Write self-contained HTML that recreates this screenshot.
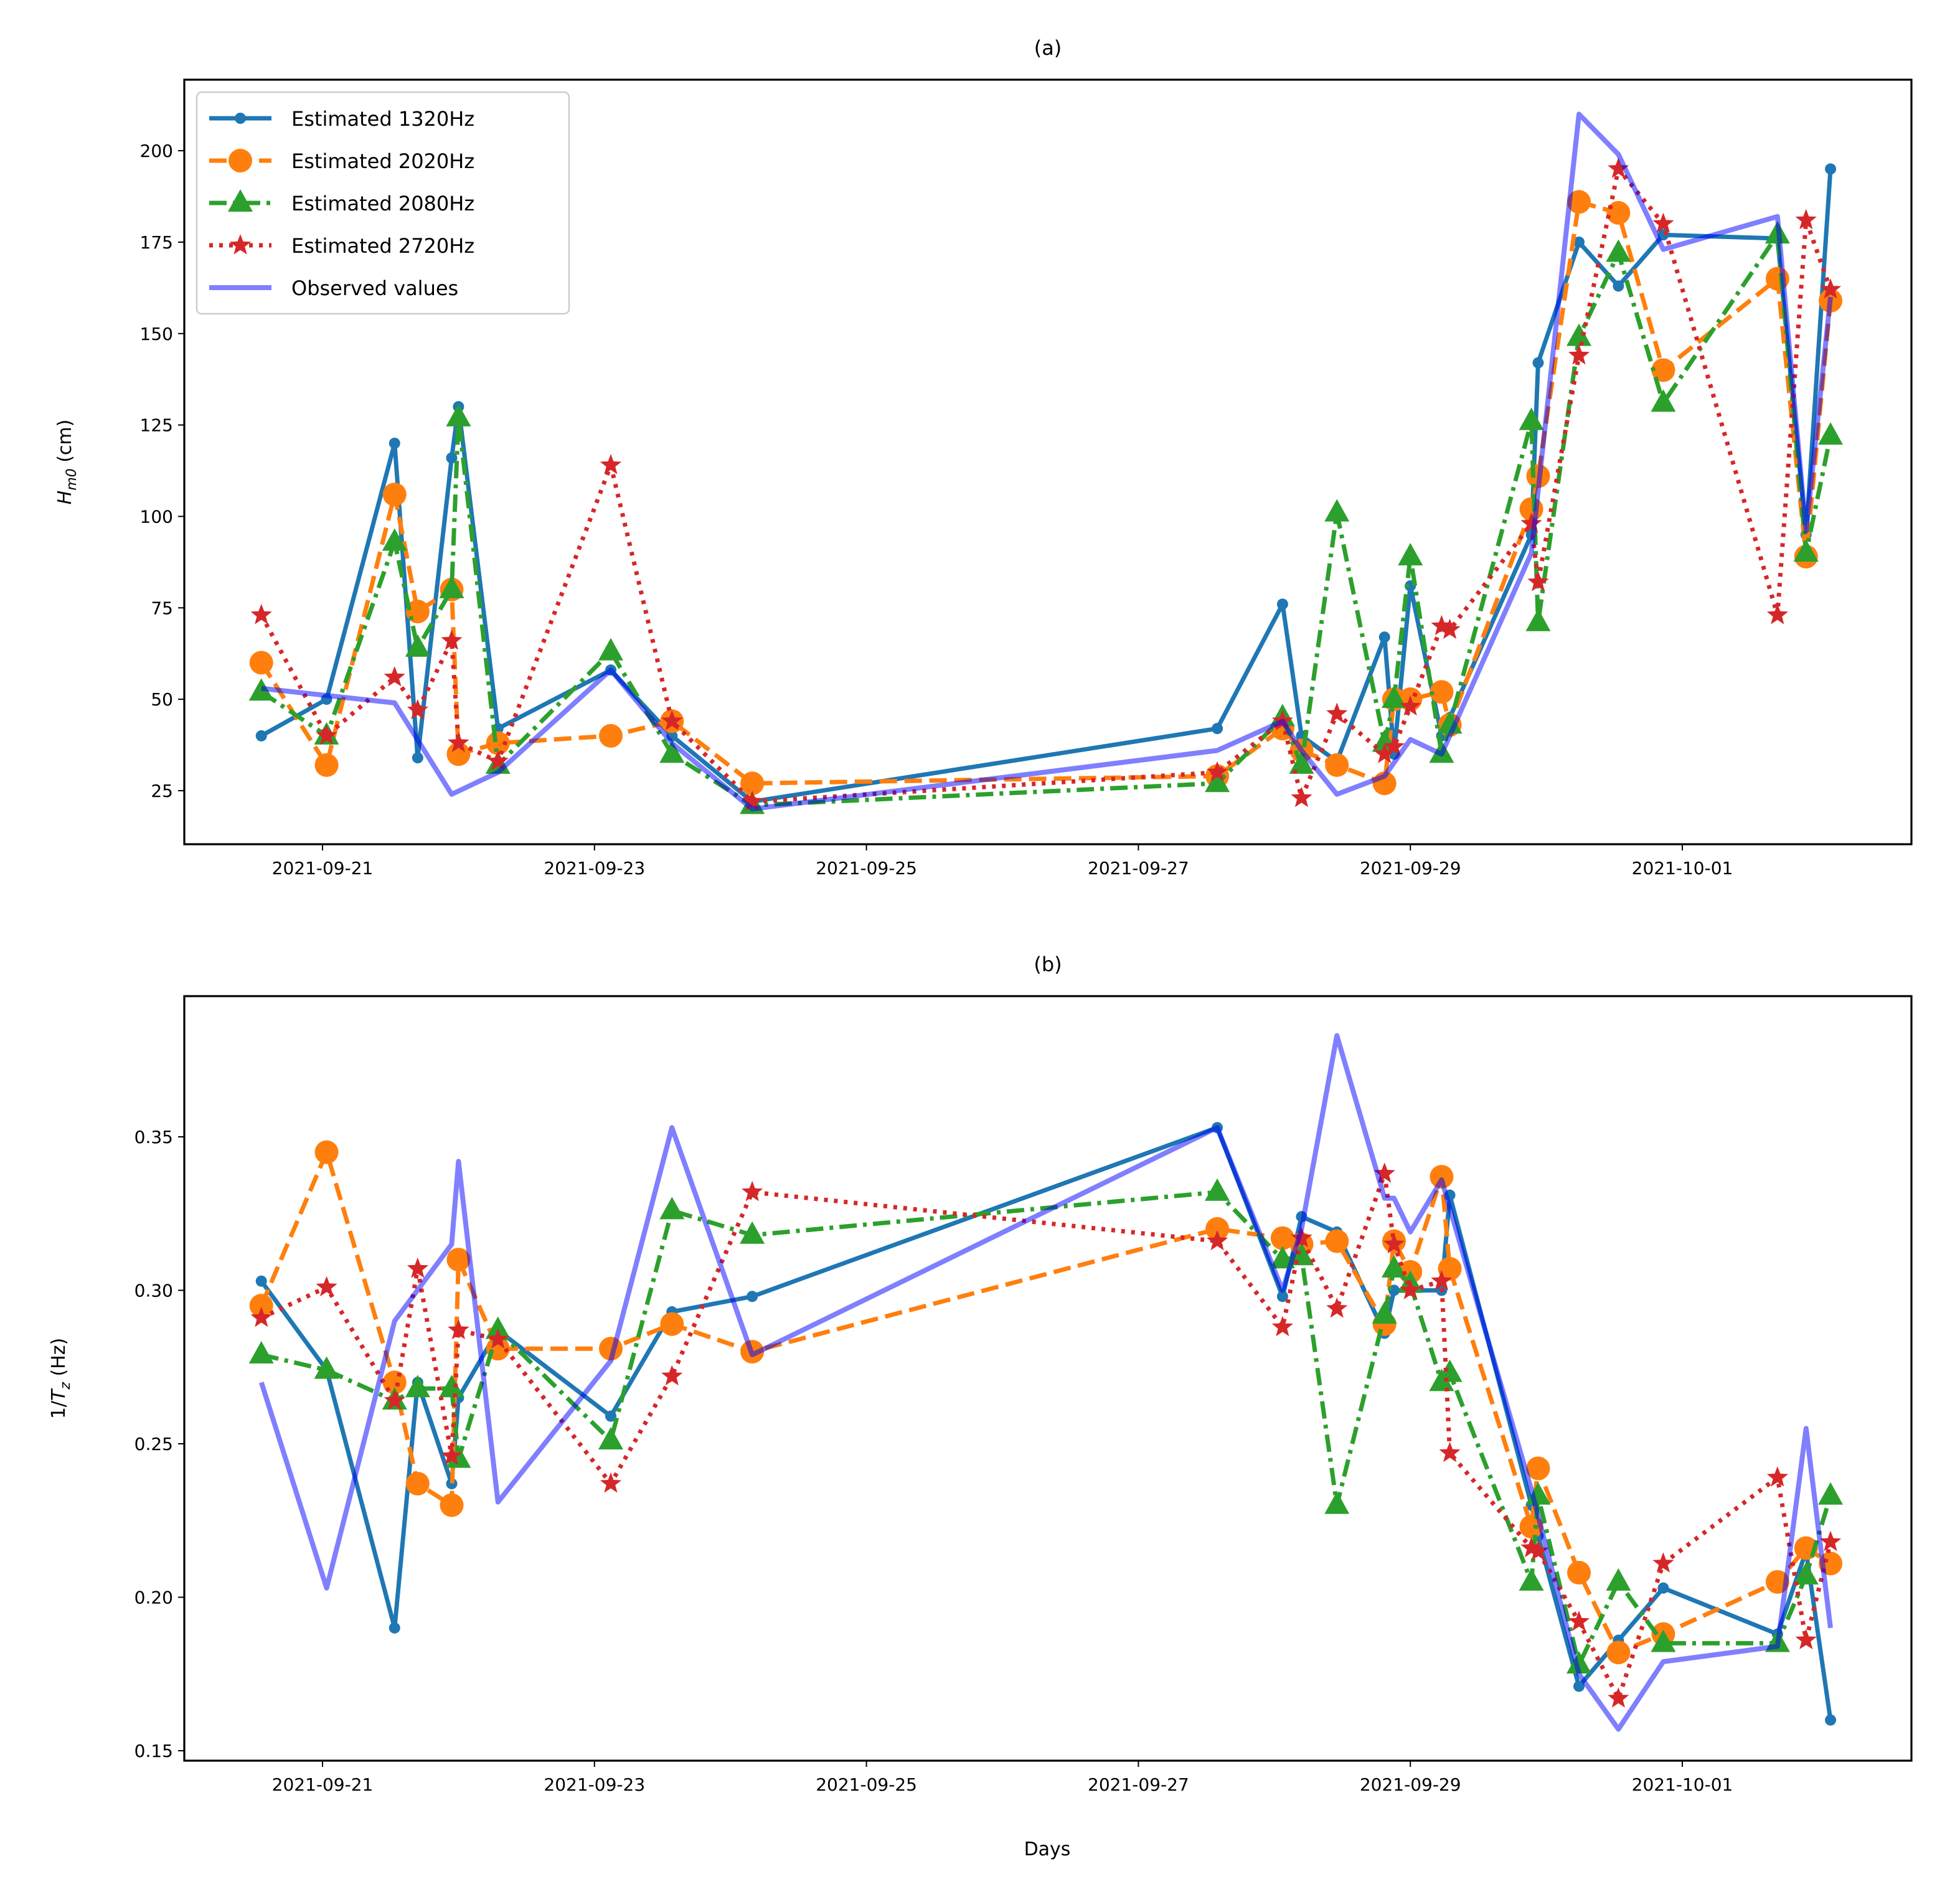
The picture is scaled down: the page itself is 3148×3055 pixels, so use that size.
<!DOCTYPE html>
<html><head><meta charset="utf-8"><style>
html,body{margin:0;padding:0;background:#fff}
svg{display:block}
text{font-family:"DejaVu Sans","Liberation Sans",sans-serif;fill:#000}
</style></head><body>
<svg id="chart" width="3148" height="3055" viewBox="0 0 1574 1527.5" xmlns="http://www.w3.org/2000/svg"></svg>
<script>
// data (days since 2021-09-21)
const times=[-0.45,0.03,0.53,0.7,0.95,1.0,1.29,2.12,2.57,3.16,6.58,7.06,7.2,7.46,7.81,7.88,8.0,8.23,8.29,8.89,8.94,9.24,9.53,9.86,10.7,10.91,11.09];
const seriesNames=["Estimated 1320Hz","Estimated 2020Hz","Estimated 2080Hz","Estimated 2720Hz","Observed values"];
const hm1320=[40,50,120,34,116,130,42,58,40,22,42,76,40,33,67,35,81,40,45,95,142,175,163,177,176,95,195];
const hm2020=[60,32,106,74,80,35,38,40,44,27,29,42,36,32,27,50,50,52,43,102,111,186,183,140,165,89,159];
const hm2080=[52,40,93,64,80,127,32,63,35,21,27,45,32,101,38,50,89,35,43,126,71,149,172,131,177,90,122];
const hm2720=[73,40,56,47,66,38,33,114,44,22,30,44,23,46,35,37,48,70,69,98,82,144,195,180,73,181,162];
const hmObs=[53,null,49,null,24,null,30,58,38,20,36,44,36,24,29,null,39,35,null,90,null,210,199,173,182,96,160];
const tz1320=[.303,.274,.190,.270,.237,.265,.287,.259,.293,.298,.353,.298,.324,.319,.286,.300,.300,.300,.331,.230,.220,.171,.186,.203,.188,.215,.160];
const tz2020=[.295,.345,.270,.237,.230,.310,.281,.281,.289,.280,.320,.317,.315,.316,.289,.316,.306,.337,.307,.223,.242,.208,.182,.188,.205,.216,.211];
const tz2080=[.279,.274,.264,.268,.268,.245,.287,.251,.326,.318,.332,.310,.311,.230,.292,.307,.302,.270,.273,.205,.233,.178,.205,.185,.185,.207,.233];
const tz2720=[.291,.301,.264,.307,.246,.287,.284,.237,.272,.332,.316,.288,.317,.294,.338,.315,.300,.303,.247,.216,.215,.192,.167,.211,.239,.186,.218];
const tzObs=[.270,.203,.290,null,.315,.342,.231,.277,.353,.279,.353,.300,.320,.383,.330,.330,.319,.336,null,.235,null,.175,.157,.179,.184,.255,.190];
const xTickDays=[0,2,4,6,8,10];
const xTickLabels=["2021-09-21","2021-09-23","2021-09-25","2021-09-27","2021-09-29","2021-10-01"];
const yTicksA=[25,50,75,100,125,150,175,200];
const yTicksB=[0.15,0.20,0.25,0.30,0.35];

const NS="http://www.w3.org/2000/svg";
const svg=document.getElementById('chart');
function mk(tag,attrs,parent){const e=document.createElementNS(NS,tag);for(const k in attrs)e.setAttribute(k,attrs[k]);(parent||svg).appendChild(e);return e;}
const L=148,R=1535;
const xs=d=>259+d*109.2;
const panels=[
 {top:64,bot:678,ys:v=>635-(v-25)*2.937,ticks:yTicksA,fmt:v=>String(v),title:"(a)",data:[hm1320,hm2020,hm2080,hm2720,hmObs],name:"panel-a"},
 {top:800,bot:1414,ys:v=>1406-(v-0.15)*2465,ticks:yTicksB,fmt:v=>v.toFixed(2),title:"(b)",data:[tz1320,tz2020,tz2080,tz2720,tzObs],name:"panel-b"}
];
const styles=[
 {c:"#1f77b4",dash:"",mk:"dot",w:3.5},
 {c:"#ff7f0e",dash:"14,6",mk:"circle",w:3.5},
 {c:"#2ca02c",dash:"14,5,3,5",mk:"tri",w:3.5},
 {c:"#d62728",dash:"3,5",mk:"star",w:3.5},
 {c:"#0000ff",dash:"",mk:null,w:4,op:0.5}
];
function marker(g,type,x,y,c){
 let e;
 if(type==="dot")e=mk('circle',{cx:x,cy:y,r:4.5,fill:c},g);
 else if(type==="circle")e=mk('circle',{cx:x,cy:y,r:9.5,fill:c},g);
 else if(type==="tri")e=mk('polygon',{points:`${x},${y-11} ${x-10},${y+7} ${x+10},${y+7}`,fill:c},g);
 else if(type==="star"){let p=[];for(let i=0;i<10;i++){const a=-Math.PI/2+i*Math.PI/5,r=i%2?3.8:9;p.push((x+r*Math.cos(a)).toFixed(1)+","+(y+r*Math.sin(a)).toFixed(1));}e=mk('polygon',{points:p.join(" "),fill:c},g);}
 
 
}
panels.forEach(P=>{
 const g=mk('g',{});
 
 
 const t=mk('text',{x:(L+R)/2,y:P.top-20,'text-anchor':'middle','font-size':16},g);t.textContent=P.title;
 
 P.ticks.forEach(v=>{const y=P.ys(v);mk('line',{x1:L-5,x2:L,y1:y,y2:y,stroke:'#000','stroke-width':1},g);
  const tt=mk('text',{x:L-9,y:y+5,'text-anchor':'end','font-size':14},g);tt.textContent=P.fmt(v);
  });
 xTickDays.forEach((d,i)=>{const x=xs(d);mk('line',{x1:x,x2:x,y1:P.bot,y2:P.bot+5,stroke:'#000','stroke-width':1},g);
  const tt=mk('text',{x:x,y:P.bot+24,'text-anchor':'middle','font-size':14},g);tt.textContent=xTickLabels[i];
  });
 P.data.forEach((arr,si)=>{const s=styles[si];
  const sg=mk('g',{},g);
  
  
  const pts=[];arr.forEach((v,i)=>{if(v!==null)pts.push([xs(times[i]),P.ys(v)]);});
  const pl=mk('polyline',{points:pts.map(p=>p[0].toFixed(1)+","+p[1].toFixed(1)).join(" "),fill:'none',stroke:s.c,'stroke-width':s.w,'stroke-dasharray':s.dash,'stroke-linejoin':'round','stroke-opacity':s.op||1},sg);
  
  if(s.mk)pts.forEach(p=>marker(sg,s.mk,p[0],p[1],s.c));
 });
 mk('rect',{x:L,y:P.top,width:R-L,height:P.bot-P.top,fill:'none',stroke:'#000','stroke-width':1.6},g);
});
// axis titles
let yt=mk('text',{x:0,y:0,'text-anchor':'middle','font-size':15,transform:'translate(57,371) rotate(-90)'});
yt.innerHTML='<tspan font-style="italic">H</tspan><tspan font-size="11" dy="4" font-style="italic">m0</tspan><tspan dy="-4"> (cm)</tspan>';

let yt2=mk('text',{x:0,y:0,'text-anchor':'middle','font-size':15,transform:'translate(52,1107) rotate(-90)'});
yt2.innerHTML='1/<tspan font-style="italic">T</tspan><tspan font-size="11" dy="4" font-style="italic">z</tspan><tspan dy="-4"> (Hz)</tspan>';

let xt=mk('text',{x:841,y:1490,'text-anchor':'middle','font-size':15});xt.textContent="Days";

// legend
const lg=mk('g',{});


mk('rect',{x:158,y:74,width:299,height:178,rx:4,fill:'#fff','fill-opacity':0.8,stroke:'#ccc','stroke-width':1.2},lg);
seriesNames.forEach((n,i)=>{const y=95+i*34,s=styles[i];
 const eg=mk('g',{},lg);
 
 
 mk('line',{x1:168,x2:218,y1:y,y2:y,stroke:s.c,'stroke-width':s.w,'stroke-dasharray':s.dash,'stroke-opacity':s.op||1},eg);
 if(s.mk)marker(eg,s.mk,193,y,s.c);
 const tt=mk('text',{x:234,y:y+6,'font-size':16},eg);tt.textContent=n;
 
});
</script>
</body></html>
